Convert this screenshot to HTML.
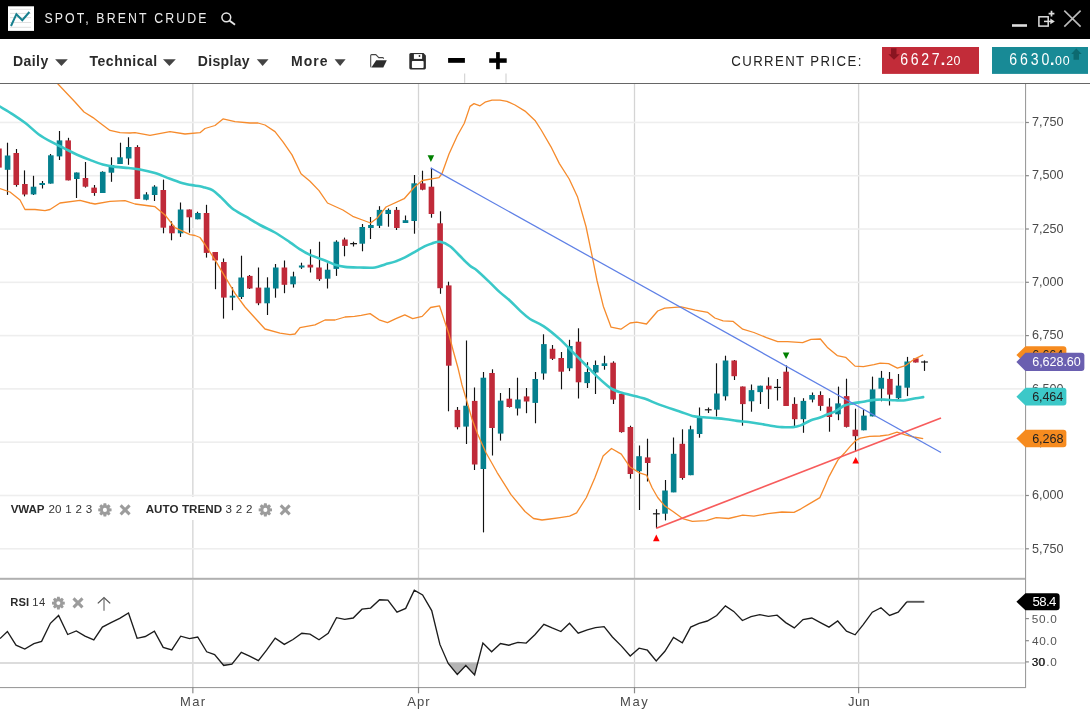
<!DOCTYPE html>
<html><head><meta charset="utf-8"><title>Spot, Brent Crude</title>
<style>
*{margin:0;padding:0}
html,body{width:1090px;height:715px;overflow:hidden;background:#fff;font-family:"Liberation Sans",sans-serif}
svg{will-change:transform}
text{font-family:"Liberation Sans",sans-serif}
</style></head><body>
<svg width="1090" height="715" viewBox="0 0 1090 715" style="position:absolute;left:0;top:0;font-family:'Liberation Sans',sans-serif">
<defs>
<clipPath id="main"><rect x="0" y="84" width="1025" height="494"/></clipPath>
<clipPath id="rsi"><rect x="0" y="580" width="1025" height="107"/></clipPath>
</defs>
<rect x="0" y="0" width="1090" height="39" fill="#000"/>
<rect x="8" y="6.3" width="26" height="24.6" fill="#fff"/>
<g stroke="#e0e0e0" stroke-width="1"><line x1="10" y1="9.3" x2="31" y2="9.3"/><line x1="10" y1="13.4" x2="31" y2="13.4"/><line x1="10" y1="17.6" x2="31" y2="17.6"/><line x1="10" y1="22.5" x2="31" y2="22.5"/><line x1="10" y1="27.3" x2="31" y2="27.3"/></g>
<polyline points="11,26 16.4,14.2 22.3,20.2 29.4,12" fill="none" stroke="#18808f" stroke-width="2"/>
<text x="55.50" y="22.9" font-size="15.4" font-weight="normal" fill="#ececec" letter-spacing="2.688" transform="scale(0.8,1)" >SPOT, BRENT CRUDE</text>
<circle cx="226.3" cy="17.3" r="4.4" fill="none" stroke="#e6e6e6" stroke-width="1.5"/>
<line x1="229.4" y1="20.5" x2="235" y2="24.8" stroke="#e6e6e6" stroke-width="1.8"/>
<rect x="1012" y="24.2" width="15" height="2.6" fill="#ddd"/>
<rect x="1038.9" y="16.8" width="9.3" height="9.3" fill="none" stroke="#ddd" stroke-width="1.5"/>
<path d="M1044,21.4 L1051,21.4" stroke="#ddd" stroke-width="1.5"/>
<path d="M1050.3,18.6 L1054.8,21.4 L1050.3,24.2 Z" fill="#ddd"/>
<path d="M1051.5,10.8 L1051.5,16.6 M1048.6,13.7 L1054.4,13.7" stroke="#ddd" stroke-width="1.7"/>
<path d="M1064.3,10.6 L1080.6,26.6 M1080.6,10.6 L1064.3,26.6" stroke="#bbb" stroke-width="1.6"/>
<rect x="0" y="83" width="1090" height="1" fill="#666"/>
<text x="13.00" y="65.9" font-size="14.0" font-weight="bold" fill="#2b2b2b" letter-spacing="0.425" >Daily</text>
<text x="89.55" y="65.9" font-size="14.0" font-weight="bold" fill="#2b2b2b" letter-spacing="0.506" >Technical</text>
<text x="197.80" y="65.9" font-size="14.0" font-weight="bold" fill="#2b2b2b" letter-spacing="0.325" >Display</text>
<text x="291.00" y="65.9" font-size="14.0" font-weight="bold" fill="#2b2b2b" letter-spacing="1.067" >More</text>
<path d="M55.1,59.3 L67.8,59.3 L61.45,65.9 Z" fill="#444"/>
<path d="M163,59.3 L175.8,59.3 L169.40,65.9 Z" fill="#444"/>
<path d="M256.8,59.3 L268.5,59.3 L262.65,65.9 Z" fill="#444"/>
<path d="M334.6,59.3 L345.6,59.3 L340.10,65.9 Z" fill="#444"/>
<path d="M371.3,67.2 Q370.7,66.8 370.7,66 L370.7,55.6 Q370.7,54.6 371.7,54.6 L375.8,54.6 L378.8,57.6 L382.7,57.6 Q383.6,57.6 383.6,58.8" fill="none" stroke="#444" stroke-width="1.05"/>
<path d="M376.2,60.2 L386.8,60.2 L383.3,67.6 L371.4,67.6 Z" fill="#2d2d2d"/>
<path d="M410.8,53.1 L423.5,53.1 L425.9,55.5 L425.9,68 Q425.9,69.4 424.5,69.4 L410.7,69.4 Q409.3,69.4 409.3,68 L409.3,54.6 Q409.3,53.1 410.8,53.1 Z" fill="#2d2d2d"/>
<rect x="413.9" y="54.1" width="8.2" height="4.8" fill="#fff"/>
<ellipse cx="419.5" cy="56" rx="0.9" ry="1.1" fill="#2d2d2d"/>
<rect x="411.9" y="60.9" width="11.7" height="7.1" rx="0.8" fill="#fff"/>
<rect x="448.1" y="58" width="16.8" height="4.8" fill="#000"/>
<rect x="489.2" y="58.3" width="17.5" height="4.5" fill="#000"/>
<rect x="496.1" y="52.1" width="3.7" height="17.1" fill="#000"/>
<rect x="464.2" y="73.5" width="1" height="9.3" fill="#ccc"/>
<rect x="505.5" y="73.5" width="1" height="9.3" fill="#ccc"/>
<text x="831.07" y="65.6" font-size="15.0" font-weight="normal" fill="#222" letter-spacing="1.587" transform="scale(0.88,1)" >CURRENT PRICE:</text>
<rect x="882" y="47" width="97" height="26.9" fill="#c22c39"/>
<path d="M891,48.2 L896.5,48.2 L896.5,54.2 L899.7,54.2 L894,59.7 L888.3,54.2 L891,54.2 Z" fill="#8a1420"/>
<text x="1097.91" y="65.1" font-size="17.2" font-weight="normal" fill="#fff" letter-spacing="3.238" transform="scale(0.82,1)" >6627</text>
<rect x="941.7" y="62.5" width="2.5" height="2.5" fill="#fff"/>
<text x="946.30" y="65.1" font-size="12.4" font-weight="normal" fill="#fff" letter-spacing="0.350" >20</text>
<rect x="992" y="47" width="96" height="26.9" fill="#188a96"/>
<path d="M1073.5,59.7 L1079,59.7 L1079,54 L1081.7,54 L1076.3,48.5 L1071.2,54 L1073.5,54 Z" fill="#0c6a70"/>
<text x="1230.96" y="65.1" font-size="17.2" font-weight="normal" fill="#fff" letter-spacing="3.482" transform="scale(0.82,1)" >6630</text>
<rect x="1051" y="62.5" width="2.4" height="2.5" fill="#fff"/>
<text x="1055.10" y="65.1" font-size="12.4" font-weight="normal" fill="#fff" letter-spacing="0.750" >00</text>
<rect x="192.20" y="84" width="1.3" height="494" fill="#d4d4d4"/>
<rect x="192.20" y="580" width="1.3" height="107" fill="#d4d4d4"/>
<rect x="417.85" y="84" width="1.3" height="494" fill="#d4d4d4"/>
<rect x="417.85" y="580" width="1.3" height="107" fill="#d4d4d4"/>
<rect x="633.85" y="84" width="1.3" height="494" fill="#d4d4d4"/>
<rect x="633.85" y="580" width="1.3" height="107" fill="#d4d4d4"/>
<rect x="857.95" y="84" width="1.3" height="494" fill="#d4d4d4"/>
<rect x="857.95" y="580" width="1.3" height="107" fill="#d4d4d4"/>
<rect x="0" y="121.65" width="1024" height="1.6" fill="#eeeeee"/>
<rect x="0" y="174.94" width="1024" height="1.6" fill="#eeeeee"/>
<rect x="0" y="228.23" width="1024" height="1.6" fill="#eeeeee"/>
<rect x="0" y="281.52" width="1024" height="1.6" fill="#eeeeee"/>
<rect x="0" y="334.81" width="1024" height="1.6" fill="#eeeeee"/>
<rect x="0" y="388.10" width="1024" height="1.6" fill="#eeeeee"/>
<rect x="0" y="441.39" width="1024" height="1.6" fill="#eeeeee"/>
<rect x="0" y="494.68" width="1024" height="1.6" fill="#eeeeee"/>
<rect x="0" y="547.97" width="1024" height="1.6" fill="#eeeeee"/>
<g clip-path="url(#main)">
<line x1="-1.50" y1="144" x2="-1.50" y2="172" stroke="#111" stroke-width="1.15"/>
<rect x="-3.85" y="148.5" width="5.6" height="19.10" fill="#c02a39"/>
<line x1="7.50" y1="142.7" x2="7.50" y2="194.9" stroke="#111" stroke-width="1.15"/>
<rect x="4.80" y="155.5" width="5.6" height="14.30" fill="#05808e"/>
<line x1="16.50" y1="149" x2="16.50" y2="186.7" stroke="#111" stroke-width="1.15"/>
<rect x="13.45" y="153" width="5.6" height="32.00" fill="#c02a39"/>
<line x1="24.50" y1="170.4" x2="24.50" y2="196.4" stroke="#111" stroke-width="1.15"/>
<rect x="22.10" y="184" width="5.6" height="10.50" fill="#c02a39"/>
<line x1="33.50" y1="175.8" x2="33.50" y2="195" stroke="#111" stroke-width="1.15"/>
<rect x="30.75" y="186.7" width="5.6" height="7.70" fill="#05808e"/>
<line x1="42.50" y1="181" x2="42.50" y2="188.5" stroke="#111" stroke-width="1.15"/>
<rect x="39.40" y="183" width="5.6" height="2.00" fill="#05808e"/>
<line x1="50.50" y1="154" x2="50.50" y2="183.6" stroke="#111" stroke-width="1.15"/>
<rect x="48.05" y="155.3" width="5.6" height="28.30" fill="#05808e"/>
<line x1="59.50" y1="131" x2="59.50" y2="160" stroke="#111" stroke-width="1.15"/>
<rect x="56.70" y="140.4" width="5.6" height="16.00" fill="#05808e"/>
<line x1="68.50" y1="137.8" x2="68.50" y2="180.4" stroke="#111" stroke-width="1.15"/>
<rect x="65.35" y="140.4" width="5.6" height="40.00" fill="#c02a39"/>
<line x1="76.50" y1="172.5" x2="76.50" y2="198" stroke="#111" stroke-width="1.15"/>
<rect x="74.00" y="172.5" width="5.6" height="6.50" fill="#05808e"/>
<line x1="85.50" y1="162" x2="85.50" y2="187.6" stroke="#111" stroke-width="1.15"/>
<rect x="82.65" y="178" width="5.6" height="8.70" fill="#c02a39"/>
<line x1="94.50" y1="185" x2="94.50" y2="195.8" stroke="#111" stroke-width="1.15"/>
<rect x="91.30" y="187.6" width="5.6" height="5.40" fill="#c02a39"/>
<line x1="102.50" y1="171.3" x2="102.50" y2="193" stroke="#111" stroke-width="1.15"/>
<rect x="99.95" y="171.8" width="5.6" height="21.20" fill="#05808e"/>
<line x1="111.50" y1="157.3" x2="111.50" y2="181.8" stroke="#111" stroke-width="1.15"/>
<rect x="108.60" y="165" width="5.6" height="7.70" fill="#05808e"/>
<line x1="120.50" y1="142.7" x2="120.50" y2="164" stroke="#111" stroke-width="1.15"/>
<rect x="117.25" y="157.3" width="5.6" height="6.70" fill="#05808e"/>
<line x1="128.50" y1="137.3" x2="128.50" y2="164.8" stroke="#111" stroke-width="1.15"/>
<rect x="125.90" y="147" width="5.6" height="11.50" fill="#05808e"/>
<line x1="137.50" y1="145.2" x2="137.50" y2="198.9" stroke="#111" stroke-width="1.15"/>
<rect x="134.55" y="147" width="5.6" height="51.90" fill="#c02a39"/>
<line x1="146.50" y1="192.2" x2="146.50" y2="200.3" stroke="#111" stroke-width="1.15"/>
<rect x="143.20" y="194.4" width="5.6" height="5.30" fill="#05808e"/>
<line x1="154.50" y1="185.2" x2="154.50" y2="201" stroke="#111" stroke-width="1.15"/>
<rect x="151.85" y="186.6" width="5.6" height="8.40" fill="#05808e"/>
<line x1="163.50" y1="179.6" x2="163.50" y2="233.3" stroke="#111" stroke-width="1.15"/>
<rect x="160.50" y="190" width="5.6" height="37.70" fill="#c02a39"/>
<line x1="171.50" y1="221.3" x2="171.50" y2="240.3" stroke="#111" stroke-width="1.15"/>
<rect x="169.15" y="225.7" width="5.6" height="7.60" fill="#c02a39"/>
<line x1="180.50" y1="202.5" x2="180.50" y2="236.9" stroke="#111" stroke-width="1.15"/>
<rect x="177.80" y="209.5" width="5.6" height="23.80" fill="#05808e"/>
<line x1="189.50" y1="209.5" x2="189.50" y2="232.7" stroke="#111" stroke-width="1.15"/>
<rect x="186.45" y="209.5" width="5.6" height="7.80" fill="#c02a39"/>
<line x1="197.50" y1="211.7" x2="197.50" y2="219.3" stroke="#111" stroke-width="1.15"/>
<rect x="195.10" y="213" width="5.6" height="6.30" fill="#05808e"/>
<line x1="206.50" y1="204.8" x2="206.50" y2="257.6" stroke="#111" stroke-width="1.15"/>
<rect x="203.75" y="213" width="5.6" height="39.90" fill="#c02a39"/>
<line x1="215.50" y1="252" x2="215.50" y2="289.2" stroke="#111" stroke-width="1.15"/>
<rect x="212.40" y="252" width="5.6" height="8.40" fill="#c02a39"/>
<line x1="223.50" y1="258.5" x2="223.50" y2="318.6" stroke="#111" stroke-width="1.15"/>
<rect x="221.05" y="262" width="5.6" height="35.60" fill="#c02a39"/>
<line x1="232.50" y1="287.3" x2="232.50" y2="310.2" stroke="#111" stroke-width="1.15"/>
<rect x="229.70" y="295.7" width="5.6" height="1.90" fill="#05808e"/>
<line x1="241.50" y1="255.7" x2="241.50" y2="299" stroke="#111" stroke-width="1.15"/>
<rect x="238.35" y="277.5" width="5.6" height="19.50" fill="#05808e"/>
<line x1="249.50" y1="275" x2="249.50" y2="289" stroke="#111" stroke-width="1.15"/>
<rect x="247.00" y="275.9" width="5.6" height="12.60" fill="#c02a39"/>
<line x1="258.50" y1="267.5" x2="258.50" y2="305.2" stroke="#111" stroke-width="1.15"/>
<rect x="255.65" y="287.6" width="5.6" height="15.70" fill="#c02a39"/>
<line x1="267.50" y1="277.3" x2="267.50" y2="315" stroke="#111" stroke-width="1.15"/>
<rect x="264.30" y="287.6" width="5.6" height="15.70" fill="#05808e"/>
<line x1="275.50" y1="264" x2="275.50" y2="297.7" stroke="#111" stroke-width="1.15"/>
<rect x="272.95" y="267.5" width="5.6" height="21.00" fill="#05808e"/>
<line x1="284.50" y1="260.5" x2="284.50" y2="293.2" stroke="#111" stroke-width="1.15"/>
<rect x="281.60" y="267.5" width="5.6" height="17.30" fill="#c02a39"/>
<line x1="293.50" y1="271.7" x2="293.50" y2="287.6" stroke="#111" stroke-width="1.15"/>
<rect x="290.25" y="276.4" width="5.6" height="7.90" fill="#05808e"/>
<line x1="301.50" y1="262.7" x2="301.50" y2="268.9" stroke="#111" stroke-width="1.15"/>
<rect x="298.90" y="265.5" width="5.6" height="2.00" fill="#05808e"/>
<line x1="310.50" y1="249.3" x2="310.50" y2="272.5" stroke="#111" stroke-width="1.15"/>
<rect x="307.55" y="264.7" width="5.6" height="2.80" fill="#c02a39"/>
<line x1="319.50" y1="241.7" x2="319.50" y2="280.9" stroke="#111" stroke-width="1.15"/>
<rect x="316.20" y="267.5" width="5.6" height="11.70" fill="#c02a39"/>
<line x1="327.50" y1="263.3" x2="327.50" y2="288.5" stroke="#111" stroke-width="1.15"/>
<rect x="324.85" y="269.7" width="5.6" height="9.00" fill="#05808e"/>
<line x1="336.50" y1="240.3" x2="336.50" y2="275.9" stroke="#111" stroke-width="1.15"/>
<rect x="333.50" y="241.7" width="5.6" height="27.20" fill="#05808e"/>
<line x1="344.50" y1="237.6" x2="344.50" y2="256.3" stroke="#111" stroke-width="1.15"/>
<rect x="342.15" y="239.5" width="5.6" height="6.40" fill="#c02a39"/>
<line x1="353.50" y1="241.7" x2="353.50" y2="246.5" stroke="#111" stroke-width="1.15"/>
<rect x="350.20" y="243" width="6.8" height="1.30" fill="#1a1a1a"/>
<line x1="362.50" y1="224" x2="362.50" y2="251.3" stroke="#111" stroke-width="1.15"/>
<rect x="359.45" y="227" width="5.6" height="16.70" fill="#05808e"/>
<line x1="370.50" y1="217" x2="370.50" y2="239" stroke="#111" stroke-width="1.15"/>
<rect x="368.10" y="225" width="5.6" height="3.00" fill="#05808e"/>
<line x1="379.50" y1="206.2" x2="379.50" y2="228" stroke="#111" stroke-width="1.15"/>
<rect x="376.75" y="209.9" width="5.6" height="15.90" fill="#05808e"/>
<line x1="388.50" y1="208.5" x2="388.50" y2="226.7" stroke="#111" stroke-width="1.15"/>
<rect x="385.40" y="209.9" width="5.6" height="4.10" fill="#05808e"/>
<line x1="396.50" y1="207" x2="396.50" y2="230" stroke="#111" stroke-width="1.15"/>
<rect x="394.05" y="209.9" width="5.6" height="18.10" fill="#c02a39"/>
<line x1="405.50" y1="215.5" x2="405.50" y2="223" stroke="#111" stroke-width="1.15"/>
<rect x="402.70" y="220.2" width="5.6" height="2.80" fill="#05808e"/>
<line x1="414.50" y1="175" x2="414.50" y2="233.7" stroke="#111" stroke-width="1.15"/>
<rect x="411.35" y="183.3" width="5.6" height="37.70" fill="#05808e"/>
<line x1="422.50" y1="170.7" x2="422.50" y2="190.3" stroke="#111" stroke-width="1.15"/>
<rect x="420.00" y="183.3" width="5.6" height="6.40" fill="#c02a39"/>
<line x1="431.50" y1="167.9" x2="431.50" y2="217.7" stroke="#111" stroke-width="1.15"/>
<rect x="428.65" y="186.7" width="5.6" height="27.30" fill="#c02a39"/>
<line x1="440.50" y1="211.3" x2="440.50" y2="293.8" stroke="#111" stroke-width="1.15"/>
<rect x="437.30" y="223.3" width="5.6" height="64.90" fill="#c02a39"/>
<line x1="448.50" y1="281.7" x2="448.50" y2="411.3" stroke="#111" stroke-width="1.15"/>
<rect x="445.95" y="285.4" width="5.6" height="80.30" fill="#c02a39"/>
<line x1="457.50" y1="407" x2="457.50" y2="429.4" stroke="#111" stroke-width="1.15"/>
<rect x="454.60" y="409.9" width="5.6" height="17.30" fill="#c02a39"/>
<line x1="466.50" y1="340.5" x2="466.50" y2="444" stroke="#111" stroke-width="1.15"/>
<rect x="463.25" y="405.7" width="5.6" height="20.90" fill="#05808e"/>
<line x1="474.50" y1="387.5" x2="474.50" y2="470" stroke="#111" stroke-width="1.15"/>
<rect x="471.90" y="400.9" width="5.6" height="63.60" fill="#c02a39"/>
<line x1="483.50" y1="372" x2="483.50" y2="532.4" stroke="#111" stroke-width="1.15"/>
<rect x="480.55" y="377.7" width="5.6" height="91.30" fill="#05808e"/>
<line x1="492.50" y1="369.3" x2="492.50" y2="455.5" stroke="#111" stroke-width="1.15"/>
<rect x="489.20" y="373" width="5.6" height="55.00" fill="#c02a39"/>
<line x1="500.50" y1="393" x2="500.50" y2="440.6" stroke="#111" stroke-width="1.15"/>
<rect x="497.85" y="400.6" width="5.6" height="33.00" fill="#05808e"/>
<line x1="509.50" y1="388" x2="509.50" y2="407.6" stroke="#111" stroke-width="1.15"/>
<rect x="506.50" y="398.7" width="5.6" height="8.30" fill="#c02a39"/>
<line x1="517.50" y1="377.7" x2="517.50" y2="415.5" stroke="#111" stroke-width="1.15"/>
<rect x="515.15" y="399.5" width="5.6" height="9.00" fill="#05808e"/>
<line x1="526.50" y1="388" x2="526.50" y2="413.2" stroke="#111" stroke-width="1.15"/>
<rect x="523.80" y="396.4" width="5.6" height="5.10" fill="#c02a39"/>
<line x1="535.50" y1="372" x2="535.50" y2="423.3" stroke="#111" stroke-width="1.15"/>
<rect x="532.45" y="379" width="5.6" height="23.90" fill="#05808e"/>
<line x1="543.50" y1="334.3" x2="543.50" y2="379.7" stroke="#111" stroke-width="1.15"/>
<rect x="541.10" y="344.1" width="5.6" height="29.40" fill="#05808e"/>
<line x1="552.50" y1="345" x2="552.50" y2="360" stroke="#111" stroke-width="1.15"/>
<rect x="549.75" y="348.8" width="5.6" height="10.00" fill="#c02a39"/>
<line x1="561.50" y1="352" x2="561.50" y2="389.3" stroke="#111" stroke-width="1.15"/>
<rect x="558.40" y="358" width="5.6" height="13.70" fill="#c02a39"/>
<line x1="569.50" y1="339.8" x2="569.50" y2="371.1" stroke="#111" stroke-width="1.15"/>
<rect x="567.05" y="346" width="5.6" height="22.30" fill="#05808e"/>
<line x1="578.50" y1="328.3" x2="578.50" y2="398.5" stroke="#111" stroke-width="1.15"/>
<rect x="575.70" y="341.7" width="5.6" height="40.60" fill="#c02a39"/>
<line x1="587.50" y1="362.2" x2="587.50" y2="388" stroke="#111" stroke-width="1.15"/>
<rect x="584.35" y="372" width="5.6" height="11.10" fill="#05808e"/>
<line x1="595.50" y1="360.5" x2="595.50" y2="394" stroke="#111" stroke-width="1.15"/>
<rect x="593.00" y="365" width="5.6" height="7.50" fill="#05808e"/>
<line x1="604.50" y1="355.7" x2="604.50" y2="369.7" stroke="#111" stroke-width="1.15"/>
<rect x="601.65" y="363.3" width="5.6" height="2.70" fill="#05808e"/>
<line x1="613.50" y1="361.3" x2="613.50" y2="404" stroke="#111" stroke-width="1.15"/>
<rect x="610.30" y="362.7" width="5.6" height="36.90" fill="#c02a39"/>
<line x1="621.50" y1="393" x2="621.50" y2="432.7" stroke="#111" stroke-width="1.15"/>
<rect x="618.95" y="394" width="5.6" height="38.10" fill="#c02a39"/>
<line x1="630.50" y1="425.7" x2="630.50" y2="478.7" stroke="#111" stroke-width="1.15"/>
<rect x="627.60" y="427" width="5.6" height="47.00" fill="#c02a39"/>
<line x1="639.50" y1="445.5" x2="639.50" y2="510" stroke="#111" stroke-width="1.15"/>
<rect x="636.25" y="456.2" width="5.6" height="15.00" fill="#05808e"/>
<line x1="647.50" y1="438.7" x2="647.50" y2="481.5" stroke="#111" stroke-width="1.15"/>
<rect x="644.90" y="457.4" width="5.6" height="5.60" fill="#c02a39"/>
<line x1="656.50" y1="509.2" x2="656.50" y2="528.3" stroke="#111" stroke-width="1.15"/>
<rect x="652.95" y="513.2" width="6.8" height="1.20" fill="#1a1a1a"/>
<line x1="665.50" y1="480" x2="665.50" y2="520.4" stroke="#111" stroke-width="1.15"/>
<rect x="662.20" y="490.5" width="5.6" height="23.20" fill="#05808e"/>
<line x1="673.50" y1="437.5" x2="673.50" y2="492.2" stroke="#111" stroke-width="1.15"/>
<rect x="670.85" y="453.8" width="5.6" height="38.60" fill="#05808e"/>
<line x1="682.50" y1="429.3" x2="682.50" y2="479.7" stroke="#111" stroke-width="1.15"/>
<rect x="679.50" y="443.8" width="5.6" height="34.20" fill="#c02a39"/>
<line x1="690.50" y1="425.7" x2="690.50" y2="475.2" stroke="#111" stroke-width="1.15"/>
<rect x="688.15" y="429.3" width="5.6" height="45.90" fill="#05808e"/>
<line x1="699.50" y1="407.5" x2="699.50" y2="437.7" stroke="#111" stroke-width="1.15"/>
<rect x="696.80" y="416.4" width="5.6" height="17.60" fill="#05808e"/>
<line x1="708.50" y1="407.5" x2="708.50" y2="413" stroke="#111" stroke-width="1.15"/>
<rect x="704.85" y="409.2" width="6.8" height="1.20" fill="#1a1a1a"/>
<line x1="716.50" y1="363.3" x2="716.50" y2="416.4" stroke="#111" stroke-width="1.15"/>
<rect x="714.10" y="393.5" width="5.6" height="16.20" fill="#05808e"/>
<line x1="725.50" y1="355.7" x2="725.50" y2="400.5" stroke="#111" stroke-width="1.15"/>
<rect x="722.75" y="360.5" width="5.6" height="35.80" fill="#05808e"/>
<line x1="734.50" y1="360" x2="734.50" y2="380" stroke="#111" stroke-width="1.15"/>
<rect x="731.40" y="360.5" width="5.6" height="15.70" fill="#c02a39"/>
<line x1="742.50" y1="386.5" x2="742.50" y2="425.7" stroke="#111" stroke-width="1.15"/>
<rect x="740.05" y="386.5" width="5.6" height="17.60" fill="#c02a39"/>
<line x1="751.50" y1="384.5" x2="751.50" y2="411.7" stroke="#111" stroke-width="1.15"/>
<rect x="748.70" y="390.1" width="5.6" height="11.20" fill="#05808e"/>
<line x1="760.50" y1="385.7" x2="760.50" y2="404" stroke="#111" stroke-width="1.15"/>
<rect x="757.35" y="385.7" width="5.6" height="6.40" fill="#05808e"/>
<line x1="768.50" y1="377.3" x2="768.50" y2="408.9" stroke="#111" stroke-width="1.15"/>
<rect x="766.00" y="385.7" width="5.6" height="3.60" fill="#c02a39"/>
<line x1="777.50" y1="379" x2="777.50" y2="400.5" stroke="#111" stroke-width="1.15"/>
<rect x="774.05" y="386.8" width="6.8" height="1.20" fill="#1a1a1a"/>
<line x1="786.50" y1="365.5" x2="786.50" y2="406" stroke="#111" stroke-width="1.15"/>
<rect x="783.30" y="371.7" width="5.6" height="34.30" fill="#c02a39"/>
<line x1="794.50" y1="397.3" x2="794.50" y2="426.5" stroke="#111" stroke-width="1.15"/>
<rect x="791.95" y="403.9" width="5.6" height="15.30" fill="#c02a39"/>
<line x1="803.50" y1="398.2" x2="803.50" y2="432.8" stroke="#111" stroke-width="1.15"/>
<rect x="800.60" y="400.9" width="5.6" height="18.30" fill="#05808e"/>
<line x1="812.50" y1="392.5" x2="812.50" y2="402.4" stroke="#111" stroke-width="1.15"/>
<rect x="809.25" y="395" width="5.6" height="4.60" fill="#05808e"/>
<line x1="820.50" y1="391.3" x2="820.50" y2="410.8" stroke="#111" stroke-width="1.15"/>
<rect x="817.90" y="395" width="5.6" height="10.90" fill="#c02a39"/>
<line x1="829.50" y1="398.2" x2="829.50" y2="431.7" stroke="#111" stroke-width="1.15"/>
<rect x="826.55" y="406.6" width="5.6" height="10.40" fill="#c02a39"/>
<line x1="838.50" y1="386.6" x2="838.50" y2="420.2" stroke="#111" stroke-width="1.15"/>
<rect x="835.20" y="403.4" width="5.6" height="10.90" fill="#05808e"/>
<line x1="846.50" y1="378.7" x2="846.50" y2="427.5" stroke="#111" stroke-width="1.15"/>
<rect x="843.85" y="396.1" width="5.6" height="30.80" fill="#c02a39"/>
<line x1="855.50" y1="408.7" x2="855.50" y2="451.6" stroke="#111" stroke-width="1.15"/>
<rect x="852.50" y="429.7" width="5.6" height="6.50" fill="#c02a39"/>
<line x1="863.50" y1="409.7" x2="863.50" y2="430.3" stroke="#111" stroke-width="1.15"/>
<rect x="861.15" y="415.6" width="5.6" height="14.70" fill="#05808e"/>
<line x1="872.50" y1="376.6" x2="872.50" y2="416.4" stroke="#111" stroke-width="1.15"/>
<rect x="869.80" y="389.4" width="5.6" height="27.00" fill="#05808e"/>
<line x1="881.50" y1="370.9" x2="881.50" y2="401.3" stroke="#111" stroke-width="1.15"/>
<rect x="878.45" y="377.8" width="5.6" height="10.90" fill="#05808e"/>
<line x1="889.50" y1="372" x2="889.50" y2="405.5" stroke="#111" stroke-width="1.15"/>
<rect x="887.10" y="378.9" width="5.6" height="15.70" fill="#c02a39"/>
<line x1="898.50" y1="374" x2="898.50" y2="399.2" stroke="#111" stroke-width="1.15"/>
<rect x="895.75" y="385.6" width="5.6" height="12.60" fill="#05808e"/>
<line x1="907.50" y1="356.9" x2="907.50" y2="396.1" stroke="#111" stroke-width="1.15"/>
<rect x="904.40" y="361.5" width="5.6" height="26.20" fill="#05808e"/>
<line x1="915.50" y1="358.3" x2="915.50" y2="362.5" stroke="#111" stroke-width="1.15"/>
<rect x="913.05" y="358.3" width="5.6" height="4.20" fill="#c02a39"/>
<line x1="924.50" y1="360.4" x2="924.50" y2="370.9" stroke="#111" stroke-width="1.15"/>
<rect x="921.10" y="361.4" width="6.8" height="1.20" fill="#1a1a1a"/>
<polyline points="45.0,72.0 58.0,84.0 75.0,102.0 84.0,112.0 93.0,117.6 100.0,123.0 110.0,130.4 120.0,132.7 130.0,133.0 135.0,132.6 150.0,135.4 170.0,131.7 185.0,134.0 200.0,132.7 205.0,128.5 215.0,125.5 223.0,118.9 235.0,121.6 250.0,123.0 258.0,123.0 265.0,125.0 275.0,131.6 283.0,141.8 292.0,154.9 301.0,173.8 310.0,181.3 319.0,190.6 327.5,203.0 342.9,210.0 352.7,216.3 362.5,220.0 370.6,223.0 377.6,217.7 386.0,207.0 404.2,198.7 414.0,187.5 422.3,180.5 439.0,177.7 442.0,173.5 449.0,154.0 457.3,135.7 464.3,123.2 470.0,106.4 474.0,103.6 480.0,105.8 485.0,102.2 492.0,100.2 500.0,100.2 507.0,101.3 515.0,105.0 525.0,111.1 535.0,120.4 541.2,130.0 551.0,146.8 559.4,163.6 569.2,179.0 577.6,197.1 586.0,226.5 592.1,255.9 597.1,281.0 603.3,306.2 611.1,327.2 620.9,329.2 630.1,323.0 636.7,322.2 646.5,324.0 657.7,311.0 664.7,308.2 681.2,306.8 695.2,310.1 707.8,312.4 714.8,318.0 723.1,320.8 732.9,321.3 742.7,329.2 753.9,332.5 766.5,337.6 777.7,341.7 787.5,341.7 802.6,342.6 811.0,339.4 820.4,339.0 827.8,347.8 837.2,355.6 845.6,357.3 855.0,366.1 863.4,366.7 873.9,364.6 880.2,363.1 888.6,363.6 897.4,368.2 905.4,365.7 913.8,359.4 923.2,354.8" fill="none" stroke="#f68b2c" stroke-width="1.3" stroke-linejoin="round"/>
<polyline points="0.0,188.5 10.0,192.0 20.0,200.0 25.0,209.5 35.0,209.5 45.0,210.7 50.0,209.5 60.0,203.0 80.0,200.4 90.0,203.0 95.0,204.0 110.0,201.3 125.0,200.6 135.0,204.0 150.0,206.0 155.0,206.7 165.0,215.0 175.0,227.7 190.0,234.7 195.0,235.5 200.0,237.5 205.0,244.5 215.0,259.9 225.0,276.6 235.0,293.4 245.0,307.0 255.0,318.0 265.0,329.0 280.0,333.2 290.0,334.6 295.0,334.0 300.0,327.6 315.0,324.8 325.0,320.0 335.0,320.0 345.0,317.0 354.5,316.4 361.2,315.3 370.1,313.6 379.1,319.8 387.5,322.6 395.9,318.7 404.8,314.8 412.7,318.7 422.2,316.4 430.6,307.5 439.5,305.8 445.1,322.6 448.5,332.7 453.0,350.0 458.0,368.0 462.0,385.0 466.4,399.6 472.0,419.0 477.6,434.0 486.0,452.7 497.0,472.3 511.0,494.7 525.0,511.5 533.5,518.5 542.0,520.0 550.0,519.0 560.0,517.6 569.6,516.2 576.6,512.9 586.4,497.5 594.8,477.9 603.1,456.0 611.5,448.5 621.3,454.1 629.7,466.7 639.5,472.9 646.5,475.1 652.1,487.7 657.7,497.5 664.7,505.9 673.0,511.5 682.6,518.5 692.4,521.3 706.4,520.7 716.2,517.6 728.7,518.5 742.7,515.1 753.9,516.2 767.9,513.7 781.9,512.0 794.0,512.3 801.0,508.8 808.0,504.6 819.9,497.6 824.8,486.4 829.0,476.6 833.8,467.6 838.0,459.9 844.3,453.3 850.0,446.6 855.5,440.7 860.4,438.2 869.5,436.4 880.0,436.0 888.6,434.9 897.0,432.2 905.4,434.9 913.8,437.0 923.2,438.7" fill="none" stroke="#f68b2c" stroke-width="1.3" stroke-linejoin="round"/>
<path d="M0.0,106.6 C2.1,107.9 8.5,111.5 12.8,114.3 C17.1,117.1 21.4,120.0 25.7,123.3 C30.0,126.6 34.2,131.1 38.5,134.2 C42.8,137.3 47.1,139.6 51.4,141.9 C55.7,144.2 59.9,146.2 64.2,148.3 C68.5,150.4 72.8,152.8 77.1,154.7 C81.4,156.6 85.6,158.3 89.9,159.9 C94.2,161.5 98.4,163.2 102.7,164.4 C107.0,165.6 111.3,166.3 115.6,166.9 C119.9,167.5 124.3,167.6 128.4,168.0 C132.5,168.4 135.6,168.7 140.0,169.5 C144.4,170.3 150.0,171.5 155.0,173.0 C160.0,174.5 165.0,176.9 170.0,178.7 C175.0,180.5 180.0,182.5 185.0,183.8 C190.0,185.1 196.7,185.7 200.0,186.3 C203.3,186.9 202.9,187.0 205.0,187.6 C207.1,188.2 209.8,188.5 212.4,190.1 C215.0,191.7 217.5,194.1 220.8,197.1 C224.1,200.1 227.8,205.0 232.0,208.3 C236.2,211.6 241.3,213.9 246.0,216.7 C250.7,219.5 255.2,222.4 260.0,225.0 C264.8,227.6 270.0,229.6 275.0,232.5 C280.0,235.4 285.8,239.5 290.0,242.3 C294.2,245.1 296.7,247.2 300.0,249.3 C303.3,251.4 305.8,253.0 310.0,254.9 C314.2,256.8 320.8,258.9 325.0,260.5 C329.2,262.1 331.7,263.6 335.0,264.7 C338.3,265.8 340.8,266.4 345.0,266.9 C349.2,267.4 355.0,267.4 360.0,267.5 C365.0,267.6 370.8,268.0 375.0,267.5 C379.2,267.0 381.7,265.4 385.0,264.4 C388.3,263.4 391.7,262.8 395.0,261.6 C398.3,260.4 401.7,259.0 405.0,257.4 C408.3,255.8 411.7,253.7 415.0,251.8 C418.3,249.9 422.2,247.6 425.0,246.2 C427.8,244.8 429.5,244.1 432.0,243.4 C434.5,242.7 437.0,241.3 440.0,241.8 C443.0,242.3 446.7,243.8 450.0,246.2 C453.3,248.6 456.7,252.7 460.0,256.0 C463.3,259.3 467.2,263.4 470.0,265.8 C472.8,268.2 473.7,267.7 477.0,270.5 C480.3,273.3 486.2,279.0 490.0,282.6 C493.8,286.2 496.7,289.4 500.0,292.4 C503.3,295.4 506.7,297.8 510.0,300.8 C513.3,303.8 516.7,307.6 520.0,310.6 C523.3,313.6 526.0,316.4 530.0,319.0 C534.0,321.6 538.9,323.0 543.8,326.3 C548.7,329.6 554.8,334.7 559.5,338.9 C564.2,343.1 567.8,347.2 572.0,351.4 C576.2,355.6 580.5,359.8 584.7,364.0 C588.9,368.2 593.7,373.2 597.2,376.6 C600.8,380.0 603.5,382.4 606.0,384.5 C608.5,386.6 609.7,387.7 612.0,389.0 C614.3,390.3 617.2,391.4 620.0,392.3 C622.8,393.2 624.6,393.4 628.7,394.5 C632.8,395.6 639.2,396.9 644.4,398.6 C649.6,400.3 654.2,402.8 660.0,404.9 C665.8,407.0 673.6,409.4 679.0,411.2 C684.4,413.0 688.3,414.9 692.4,415.9 C696.5,416.9 699.9,416.9 703.6,417.3 C707.3,417.7 711.1,417.8 714.8,418.1 C718.5,418.4 722.3,418.7 726.0,419.2 C729.7,419.7 733.4,420.4 737.1,420.9 C740.8,421.4 744.6,421.5 748.3,422.0 C752.0,422.5 755.8,423.1 759.5,423.7 C763.2,424.3 767.0,425.1 770.7,425.7 C774.4,426.3 778.2,426.9 781.9,427.1 C785.6,427.3 790.0,427.4 793.1,427.1 C796.2,426.8 797.5,426.5 800.5,425.4 C803.5,424.2 807.9,421.5 811.0,420.2 C814.1,418.9 816.6,418.7 819.4,417.7 C822.2,416.7 825.0,415.4 827.8,414.3 C830.6,413.2 833.4,412.3 836.2,410.8 C839.0,409.3 841.7,406.7 844.5,405.5 C847.3,404.3 849.9,404.0 853.0,403.4 C856.1,402.8 859.9,402.3 863.4,401.7 C866.9,401.1 870.4,400.2 873.9,399.9 C877.4,399.5 880.9,399.5 884.4,399.6 C887.9,399.7 891.4,400.2 894.9,400.3 C898.4,400.4 901.9,400.7 905.4,400.3 C908.9,399.9 912.9,398.7 915.9,398.2 C918.9,397.7 922.0,397.3 923.2,397.1" fill="none" stroke="#3ac8c8" stroke-width="2.6" stroke-linejoin="round" stroke-linecap="round"/>
<line x1="430.7" y1="167.9" x2="941" y2="452.5" stroke="#5f80e6" stroke-width="1.25"/>
<line x1="656.3" y1="528.3" x2="941" y2="418.0" stroke="#f75c5c" stroke-width="1.7"/>
<path d="M427.6,155.2 L434.2,155.2 L430.9,162 Z" fill="#008000"/>
<path d="M782.8,352.4 L789.4,352.4 L786.1,359.1 Z" fill="#008000"/>
<path d="M653,541.3 L659.6,541.3 L656.3,534.6 Z" fill="#f00"/>
<path d="M852.4,463.6 L859,463.6 L855.7,456.9 Z" fill="#f00"/>
</g>
<rect x="6" y="497" width="292" height="23" fill="#fff"/>
<text x="10.70" y="512.9" font-size="11.6" font-weight="bold" fill="#2b2b2b" letter-spacing="-0.117" >VWAP</text>
<text x="48.40" y="512.9" font-size="11.6" font-weight="normal" fill="#333" letter-spacing="0.271" >20 1 2 3</text>
<path d="M103.18,505.32 L103.55,503.24 L106.25,503.24 L106.62,505.32 L106.92,505.44 L108.66,504.23 L110.57,506.14 L109.36,507.88 L109.48,508.18 L111.56,508.55 L111.56,511.25 L109.48,511.62 L109.36,511.92 L110.57,513.66 L108.66,515.57 L106.92,514.36 L106.62,514.48 L106.25,516.56 L103.55,516.56 L103.18,514.48 L102.88,514.36 L101.14,515.57 L99.23,513.66 L100.44,511.92 L100.32,511.62 L98.24,511.25 L98.24,508.55 L100.32,508.18 L100.44,507.88 L99.23,506.14 L101.14,504.23 L102.88,505.44Z" fill="#9c9c9c"/><circle cx="104.9" cy="509.9" r="2.04" fill="#fff"/>
<path d="M120.6,505.4 L129.6,514.4 M129.6,505.4 L120.6,514.4" stroke="#9c9c9c" stroke-width="3.0" stroke-linecap="butt"/>
<text x="145.65" y="512.9" font-size="11.6" font-weight="bold" fill="#2b2b2b" letter-spacing="0.078" >AUTO TREND</text>
<text x="225.50" y="512.9" font-size="11.6" font-weight="normal" fill="#333" letter-spacing="0.312" >3 2 2</text>
<path d="M263.63,505.32 L264.00,503.24 L266.70,503.24 L267.07,505.32 L267.37,505.44 L269.11,504.23 L271.02,506.14 L269.81,507.88 L269.93,508.18 L272.01,508.55 L272.01,511.25 L269.93,511.62 L269.81,511.92 L271.02,513.66 L269.11,515.57 L267.37,514.36 L267.07,514.48 L266.70,516.56 L264.00,516.56 L263.63,514.48 L263.33,514.36 L261.59,515.57 L259.68,513.66 L260.89,511.92 L260.77,511.62 L258.69,511.25 L258.69,508.55 L260.77,508.18 L260.89,507.88 L259.68,506.14 L261.59,504.23 L263.33,505.44Z" fill="#9c9c9c"/><circle cx="265.35" cy="509.9" r="2.04" fill="#fff"/>
<path d="M280.7,505.4 L289.7,514.4 M289.7,505.4 L280.7,514.4" stroke="#9c9c9c" stroke-width="3.0" stroke-linecap="butt"/>
<rect x="0" y="577.8" width="1025" height="2" fill="#b0b0b0"/>
<rect x="0" y="662" width="1025" height="2" fill="#dcdcdc"/>
<g clip-path="url(#rsi)">
<polygon points="221.2,662.5 223.7,665.5 231.9,664.2 233.2,662.5" fill="#b4b4b4"/><polygon points="447.8,662.5 448.2,663.4 457.3,674.5 465.8,665.5 474.6,675.0 477.9,662.5" fill="#b4b4b4"/>
<polyline points="0.0,638.6 7.4,631.5 16.0,645.2 24.8,649.0 33.9,643.6 41.6,641.4 50.4,623.3 58.6,615.5 67.7,634.5 76.3,630.9 85.0,636.2 93.8,639.8 102.4,627.1 111.0,622.6 119.7,618.3 128.5,613.0 137.1,638.3 145.3,636.5 154.4,631.2 163.2,647.4 171.8,649.9 180.7,636.2 189.5,638.6 197.7,637.0 206.7,651.8 214.6,654.6 223.7,665.5 231.9,664.2 241.3,652.3 250.1,656.3 258.4,660.6 266.6,650.2 275.2,638.1 284.3,644.4 293.0,639.5 301.8,633.3 310.0,634.2 319.0,639.8 328.2,633.2 336.5,617.7 344.7,619.3 353.2,618.0 362.0,609.2 370.6,608.1 379.6,599.8 387.9,600.1 397.0,612.2 405.7,608.4 414.3,590.2 422.6,594.9 431.7,610.6 439.9,644.4 448.2,663.4 457.3,674.5 465.8,665.5 474.6,675.0 482.9,643.1 491.6,651.8 500.5,643.6 508.8,645.2 517.9,642.4 526.2,643.1 535.1,634.5 543.9,624.3 552.1,627.9 560.9,631.5 569.5,623.3 578.2,633.2 587.3,629.9 595.5,627.6 604.1,626.7 612.4,637.0 621.5,646.1 630.2,656.0 639.1,648.2 647.4,650.2 656.2,660.9 664.9,651.3 673.5,637.5 682.3,642.8 690.7,627.1 699.0,623.3 707.3,621.0 716.7,615.5 725.4,605.9 733.7,611.4 742.4,620.5 751.0,616.7 759.8,614.7 768.4,616.3 777.1,615.2 785.7,622.6 794.3,627.9 803.0,619.6 811.8,618.0 820.4,622.6 829.0,627.1 837.7,621.0 846.5,631.2 855.1,634.8 863.2,624.6 872.3,612.2 881.0,607.7 889.6,615.5 898.2,612.2 906.9,601.8" fill="none" stroke="#1c1c1c" stroke-width="1.35" stroke-linejoin="miter"/>
<line x1="906.9" y1="601.8" x2="924.3" y2="601.8" stroke="#585858" stroke-width="1.9"/>
</g>
<text x="10.25" y="606.0" font-size="11.2" font-weight="bold" fill="#2b2b2b" letter-spacing="0.075" >RSI</text>
<text x="32.25" y="606.0" font-size="11.2" font-weight="normal" fill="#333" letter-spacing="0.500" >14</text>
<path d="M56.75,598.72 L57.11,596.73 L59.69,596.73 L60.05,598.72 L60.33,598.84 L61.99,597.68 L63.82,599.51 L62.66,601.17 L62.78,601.45 L64.77,601.81 L64.77,604.39 L62.78,604.75 L62.66,605.03 L63.82,606.69 L61.99,608.52 L60.33,607.36 L60.05,607.48 L59.69,609.47 L57.11,609.47 L56.75,607.48 L56.47,607.36 L54.81,608.52 L52.98,606.69 L54.14,605.03 L54.02,604.75 L52.03,604.39 L52.03,601.81 L54.02,601.45 L54.14,601.17 L52.98,599.51 L54.81,597.68 L56.47,598.84Z" fill="#9c9c9c"/><circle cx="58.4" cy="603.1" r="1.95" fill="#fff"/>
<path d="M73.5,598.4 L82.5,607.4 M82.5,598.4 L73.5,607.4" stroke="#9c9c9c" stroke-width="3.0" stroke-linecap="butt"/>
<path d="M104,610.8 L104,598.5" stroke="#a0a0a0" stroke-width="1.8" fill="none"/>
<path d="M97.8,603.4 L104,597.6 L110.2,603.4" stroke="#555" stroke-width="1.3" fill="none"/>
<rect x="1025" y="84" width="1.1" height="604" fill="#9c9c9c"/>
<rect x="0" y="687" width="1026" height="1.1" fill="#9c9c9c"/>
<rect x="1025.5" y="121.9" width="3.4" height="1.2" fill="#8a8a8a"/>
<text x="1031.90" y="126.2" font-size="12.6" font-weight="normal" fill="#4a4a4a" letter-spacing="0.000" >7,750</text>
<rect x="1025.5" y="175.1" width="3.4" height="1.2" fill="#8a8a8a"/>
<text x="1031.90" y="179.4" font-size="12.6" font-weight="normal" fill="#4a4a4a" letter-spacing="0.000" >7,500</text>
<rect x="1025.5" y="228.4" width="3.4" height="1.2" fill="#8a8a8a"/>
<text x="1031.90" y="232.7" font-size="12.6" font-weight="normal" fill="#4a4a4a" letter-spacing="0.000" >7,250</text>
<rect x="1025.5" y="281.7" width="3.4" height="1.2" fill="#8a8a8a"/>
<text x="1031.90" y="286.0" font-size="12.6" font-weight="normal" fill="#4a4a4a" letter-spacing="0.000" >7,000</text>
<rect x="1025.5" y="335.0" width="3.4" height="1.2" fill="#8a8a8a"/>
<text x="1031.90" y="339.3" font-size="12.6" font-weight="normal" fill="#4a4a4a" letter-spacing="0.000" >6,750</text>
<rect x="1025.5" y="388.3" width="3.4" height="1.2" fill="#8a8a8a"/>
<text x="1031.90" y="392.6" font-size="12.6" font-weight="normal" fill="#4a4a4a" letter-spacing="0.000" >6,500</text>
<rect x="1025.5" y="441.6" width="3.4" height="1.2" fill="#8a8a8a"/>
<text x="1031.90" y="445.9" font-size="12.6" font-weight="normal" fill="#4a4a4a" letter-spacing="0.000" >6,250</text>
<rect x="1025.5" y="494.9" width="3.4" height="1.2" fill="#8a8a8a"/>
<text x="1031.90" y="499.2" font-size="12.6" font-weight="normal" fill="#4a4a4a" letter-spacing="0.000" >6,000</text>
<rect x="1025.5" y="548.2" width="3.4" height="1.2" fill="#8a8a8a"/>
<text x="1031.90" y="552.5" font-size="12.6" font-weight="normal" fill="#4a4a4a" letter-spacing="0.000" >5,750</text>
<rect x="1025.5" y="618.0" width="3.4" height="1.2" fill="#8a8a8a"/>
<text x="1031.70" y="622.7" font-size="11.8" font-weight="normal" fill="#555" letter-spacing="0.733" >50.0</text>
<rect x="1025.5" y="640.1" width="3.4" height="1.2" fill="#8a8a8a"/>
<text x="1031.95" y="644.8" font-size="11.8" font-weight="normal" fill="#555" letter-spacing="0.650" >40.0</text>
<rect x="1025.5" y="661.3" width="3.4" height="1.2" fill="#8a8a8a"/>
<text x="1031.70" y="666.0" font-size="11.8" font-weight="normal" fill="#555" letter-spacing="0.733" >30.0</text>
<text x="1031.70" y="666.0" font-size="11.8" font-weight="normal" fill="#222" letter-spacing="0.000" >30</text>
<rect x="192.25" y="687" width="1.2" height="6.3" fill="#8a8a8a"/>
<text x="179.90" y="705.9" font-size="13.0" font-weight="normal" fill="#4a4a4a" letter-spacing="1.425" >Mar</text>
<rect x="417.9" y="687" width="1.2" height="6.3" fill="#8a8a8a"/>
<text x="407.20" y="705.9" font-size="13.0" font-weight="normal" fill="#4a4a4a" letter-spacing="1.100" >Apr</text>
<rect x="633.9" y="687" width="1.2" height="6.3" fill="#8a8a8a"/>
<text x="620.10" y="705.9" font-size="13.0" font-weight="normal" fill="#4a4a4a" letter-spacing="1.600" >May</text>
<rect x="858.0" y="687" width="1.2" height="6.3" fill="#8a8a8a"/>
<text x="848.05" y="705.9" font-size="13.0" font-weight="normal" fill="#4a4a4a" letter-spacing="0.350" >Jun</text>
<path d="M1016.4,355.0 L1025.4,346.15 L1063.4,346.15 Q1066.4,346.15 1066.4,349.15 L1066.4,360.85 Q1066.4,363.85 1063.4,363.85 L1025.4,363.85 Z" fill="#f68b1f"/><text x="1032.20" y="359.4" font-size="12.6" font-weight="normal" fill="#222" letter-spacing="-0.137" >6,664</text>
<path d="M1016.4,361.9 L1025.4,352.7 L1081.4,352.7 Q1084.4,352.7 1084.4,355.7 L1084.4,368.09999999999997 Q1084.4,371.09999999999997 1081.4,371.09999999999997 L1025.4,371.09999999999997 Z" fill="#6a5fb0"/><text x="1032.20" y="366.3" font-size="12.6" font-weight="normal" fill="#fff" letter-spacing="-0.057" >6,628.60</text>
<path d="M1016.4,396.7 L1025.4,387.84999999999997 L1063.4,387.84999999999997 Q1066.4,387.84999999999997 1066.4,390.84999999999997 L1066.4,402.55 Q1066.4,405.55 1063.4,405.55 L1025.4,405.55 Z" fill="#3cc8c8"/><text x="1032.20" y="401.1" font-size="12.6" font-weight="normal" fill="#222" letter-spacing="-0.137" >6,464</text>
<path d="M1016.4,438.5 L1025.4,429.65 L1063.4,429.65 Q1066.4,429.65 1066.4,432.65 L1066.4,444.35 Q1066.4,447.35 1063.4,447.35 L1025.4,447.35 Z" fill="#f68b1f"/><text x="1032.20" y="442.9" font-size="12.6" font-weight="normal" fill="#222" letter-spacing="-0.075" >6,268</text>
<path d="M1016.4,601.7 L1025.4,593.1500000000001 L1056.6,593.1500000000001 Q1059.6,593.1500000000001 1059.6,596.1500000000001 L1059.6,607.25 Q1059.6,610.25 1056.6,610.25 L1025.4,610.25 Z" fill="#000"/><text x="1032.50" y="606.1" font-size="13.2" font-weight="normal" fill="#fff" letter-spacing="-0.583" >58.4</text>
</svg>
</body></html>
